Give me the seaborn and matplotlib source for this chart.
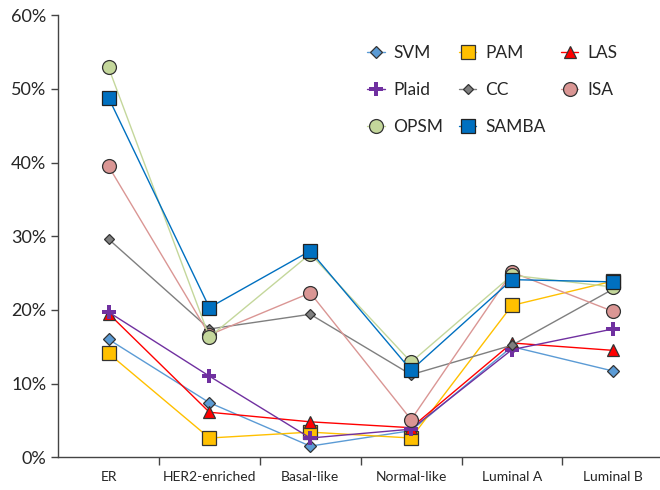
import matplotlib
matplotlib.use("Agg")
import matplotlib.pyplot as plt
from matplotlib.ticker import PercentFormatter, FixedLocator
import seaborn as sns

# subtypes on the x axis
categories = ["ER", "HER2-enriched", "Basal-like", "Normal-like", "Luminal A", "Luminal B"]

# percentage per method
svm = [16.0, 7.4, 1.5, 3.6, 15.0, 11.7]
pam = [14.1, 2.6, 3.4, 2.6, 20.6, 23.9]
las = [19.5, 6.1, 4.8, 4.0, 15.5, 14.5]
plaid = [19.7, 11.0, 2.6, 3.8, 14.6, 17.4]
cc = [29.6, 17.4, 19.4, 11.2, 15.2, 22.8]
isa = [39.5, 16.6, 22.3, 5.1, 25.1, 19.8]
opsm = [52.9, 16.3, 27.6, 12.9, 24.7, 23.1]
samba = [48.8, 20.3, 28.0, 11.8, 24.1, 23.8]

sns.set_style("white")
plt.rcParams["font.family"] = ["Lato", "DejaVu Sans"]

# (name, values, line colour, marker, marker face, marker size, edge)
series = [
    ("SVM", svm, "#5B9BD5", "D", "#5B9BD5", 6.5, "#333333"),
    ("PAM", pam, "#FFC000", "s", "#FFC000", 10, "#333333"),
    ("LAS", las, "#FF0000", "^", "#FF0000", 9, "#333333"),
    ("Plaid", plaid, "#7030A0", "P", "#7030A0", 10, "#7030A0"),
    ("CC", cc, "#7F7F7F", "D", "#7F7F7F", 5, "#333333"),
    ("ISA", isa, "#DA9694", "o", "#DA9694", 10, "#333333"),
    ("OPSM", opsm, "#C4D79B", "o", "#C4D79B", 10, "#333333"),
    ("SAMBA", samba, "#0070C0", "s", "#0070C0", 10, "#222222"),
]

fig = plt.figure(figsize=(6.6, 4.9), dpi=100)
ax = fig.add_axes([0.088, 0.067, 0.917, 0.902])

handles = {}
for name, vals, lc, mk, mf, ms, me in series:
    sns.lineplot(x=categories, y=vals, sort=False, ax=ax, color=lc, linewidth=1.0,
                 marker=mk, markersize=ms, markerfacecolor=mf, markeredgecolor=me,
                 markeredgewidth=0.9 if name != "Plaid" else 0.0, label=name)
    handles[name] = ax.lines[-1]

ax.set_xlim(-0.5, 5.5)
ax.set_ylim(0, 60)
ax.yaxis.set_major_formatter(PercentFormatter(decimals=0))
ax.set_yticks(range(0, 61, 10))
ax.set_xticks(range(6))
ax.set_xticklabels(categories)
ax.xaxis.set_minor_locator(FixedLocator([0.5 + i for i in range(6)]))
ax.tick_params(axis="x", which="major", length=0, labelsize=10, pad=10)
ax.tick_params(axis="x", which="minor", length=6, width=1, color="#444444", direction="out", bottom=True)
ax.tick_params(axis="y", length=5, width=1, color="#444444", labelsize=13, direction="out", left=True)
ax.set_xlabel("")
ax.set_ylabel("")

for side in ["top", "right"]:
    ax.spines[side].set_visible(False)
for side in ["left", "bottom"]:
    ax.spines[side].set_color("#444444")
    ax.spines[side].set_linewidth(1.0)

order = ["SVM", "Plaid", "OPSM", "PAM", "CC", "SAMBA", "LAS", "ISA"]
ax.legend([handles[n] for n in order], order, ncol=3, frameon=False, fontsize=12.5,
          loc="upper left", bbox_to_anchor=(0.485, 0.968), handlelength=1.0,
          columnspacing=0.9, labelspacing=1.2, handletextpad=0.5)

fig.savefig("out.png", dpi=100)
